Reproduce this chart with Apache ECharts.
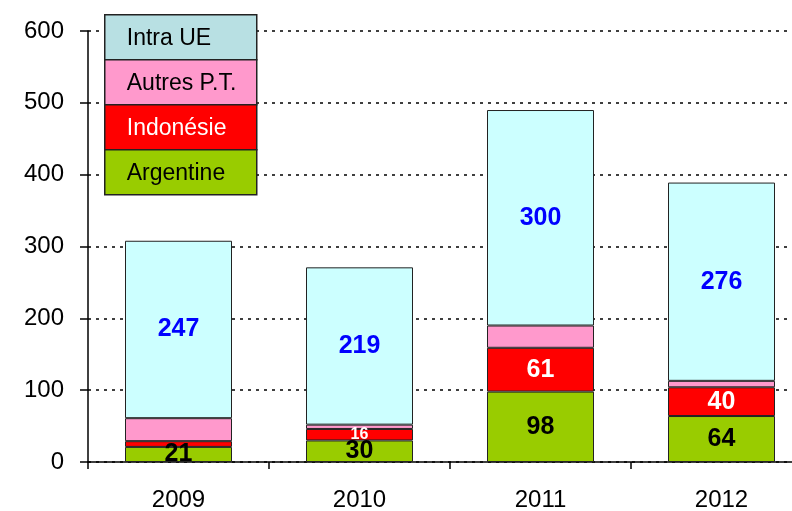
<!DOCTYPE html>
<html>
<head>
<meta charset="utf-8">
<script src="https://cdn.jsdelivr.net/npm/echarts@6/dist/echarts.min.js"></script>
<style>
  html, body { margin: 0; padding: 0; background: #fff; }
  #chart { width: 792px; height: 511px; }
</style>
</head>
<body>
<div id="chart"></div>
<script>
const years = ['2009', '2010', '2011', '2012'];
const argentine = [21, 30, 98, 64];
const indonesie = [8, 16, 61, 40];
const autres = [32, 6, 31, 9];
const intraUE = [247, 219, 300, 276];
const yTicks = [0, 100, 200, 300, 400, 500, 600];

// legend rows top to bottom
const legendNames = ['Intra UE', 'Autres P.T.', 'Indonésie', 'Argentine'];
const legendColors = ['#b8e0e3', '#ff99cc', '#ff0000', '#99cc00'];
const legendText = ['#000', '#000', '#fff', '#000'];

const font = 'Liberation Sans, Arial, sans-serif';

function labelled(values, small) {
  return values.map(function (v) {
    let item = { value: v };
    if (v < 10) item.label = { show: false };
    else if (v < 20 && small) item.label = { fontSize: 16 };
    return item;
  });
}

function barSeries(name, values, color, label) {
  return {
    name: name,
    type: 'bar',
    stack: 'total',
    barWidth: 107,
    data: label ? labelled(values, label.small) : values,
    itemStyle: { color: color, borderColor: '#222', borderWidth: 1 },
    label: label ? {
      show: true,
      position: 'inside',
      color: label.color,
      fontFamily: font,
      fontWeight: 'bold',
      fontSize: 25
    } : { show: false }
  };
}

let myChart = echarts.init(document.getElementById('chart'));

let legendGraphic = legendNames.map(function (n, i) {
  return {
    type: 'group',
    left: 104,
    top: 14 + i * 45,
    z: 100,
    children: [
      {
        type: 'rect',
        z: 100,
        shape: { x: 0, y: 0, width: 152, height: 45 },
        style: { fill: legendColors[i], stroke: '#222', lineWidth: 1.5 }
      },
      {
        type: 'text',
        z: 101,
        x: 22,
        y: 24,
        style: {
          text: n,
          fill: legendText[i],
          font: '23px ' + font,
          verticalAlign: 'middle'
        }
      }
    ]
  };
});

var option = {
  backgroundColor: '#fff',
  animation: false,
  grid: { left: 88, top: 31, bottom: 49, width: 724, outerBoundsMode: 'none', containLabel: false },
  xAxis: {
    type: 'category',
    data: years,
    axisLine: { lineStyle: { color: '#000', width: 1.5 } },
    axisTick: { show: true, length: 7, lineStyle: { color: '#000', width: 1.5 } },
    axisLabel: { color: '#000', fontSize: 24, fontFamily: font, margin: 26 }
  },
  yAxis: {
    type: 'value',
    min: 0,
    max: 600,
    interval: 100,
    axisLine: { show: true, lineStyle: { color: '#000', width: 1.5 } },
    axisTick: { show: true, length: 8, lineStyle: { color: '#000', width: 1.5 } },
    axisLabel: {
      color: '#000', fontSize: 24, fontFamily: font, margin: 24,
      formatter: function (v) { return yTicks.indexOf(v) >= 0 ? String(v) : ''; }
    },
    splitLine: { show: true, lineStyle: { color: '#000', width: 1.5, type: [3, 5] } }
  },
  series: [
    barSeries('Argentine', argentine, '#99cc00', { color: '#000' }),
    barSeries('Indonésie', indonesie, '#ff0000', { color: '#fff', small: true }),
    barSeries('Autres P.T.', autres, '#ff99cc', null),
    barSeries('Intra UE', intraUE, '#ccffff', { color: '#0000ff' })
  ],
  graphic: legendGraphic
};

myChart.setOption(option);
</script>
</body>
</html>
